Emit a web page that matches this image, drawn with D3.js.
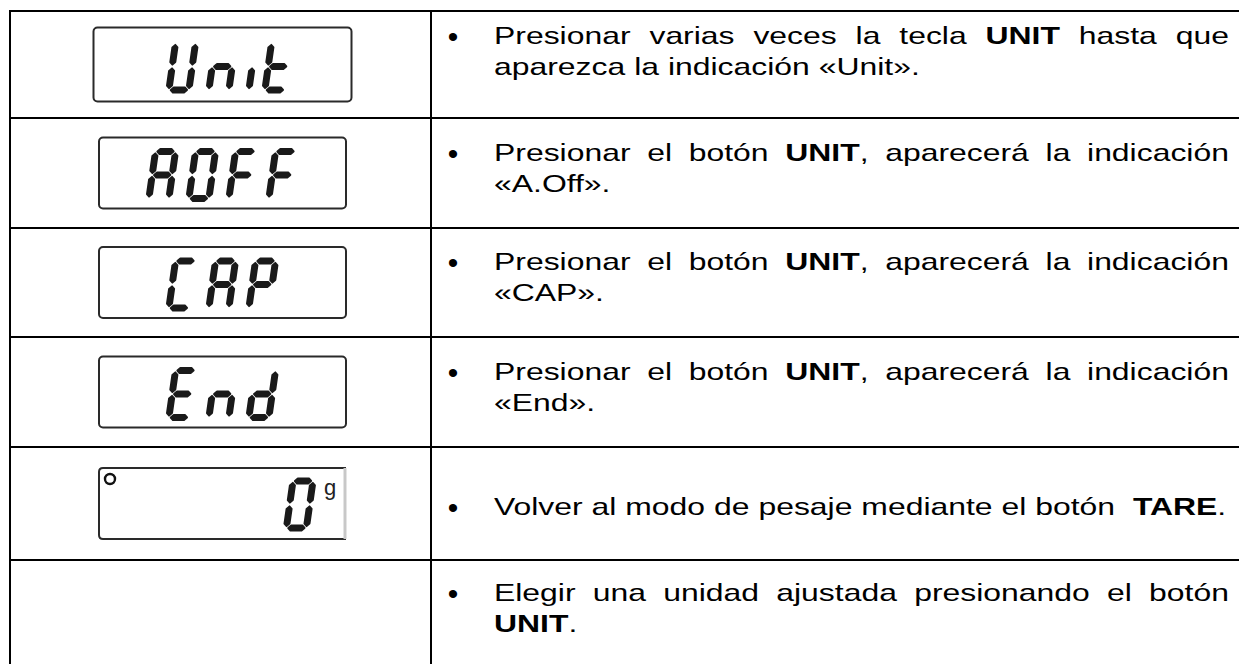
<!DOCTYPE html>
<html><head><meta charset="utf-8">
<script src="https://cdn.jsdelivr.net/npm/d3@7"></script>
<style>html,body{margin:0;padding:0;background:#fff;} svg{display:block}</style>
</head><body>
<svg id="c" width="1239" height="664"></svg>
<script>
// ---------- data ----------
const displays = ["Unit", "AOFF", "CAP", "End", "0", ""];
const instructions = [
  ["Presionar varias veces la tecla **UNIT** hasta que", "aparezca la indicación «Unit»."],
  ["Presionar el botón **UNIT**, aparecerá la indicación", "«A.Off»."],
  ["Presionar el botón **UNIT**, aparecerá la indicación", "«CAP»."],
  ["Presionar el botón **UNIT**, aparecerá la indicación", "«End»."],
  ["Volver al modo de pesaje mediante el botón  **TARE**."],
  ["Elegir una unidad ajustada presionando el botón", "**UNIT**."]
];
const weighUnit = "g";

// ---------- layout ----------
const svg = d3.select("#c");
const tableLeft = 10, colSplit = 431, tableRight = 1242;
const rowEdges = [11, 118, 228, 337, 447, 560, 667];
const rowTextShift = [-8, 0, 0, 0, 8, 0];
const FS = 24, SX = 1.33, LH = 31, VOFF = -6;
const bulletX = 453, textLeft = 494, textRight = 1229;
const INK = "#000";
const FONT = "Liberation Sans, Arial, sans-serif";

// 7-segment glyph table
const SEG = {U:"bcdef", n:"ceg", i:"e", t:"defg", A:"abcefg", O:"abcdef", "0":"abcdef",
             F:"aefg", C:"adef", P:"abefg", E:"adefg", d:"bcdeg"};
const GW = 20, GH = 47, GT = 2.6, GAP = 1.8, PITCH = 40, SKEW = -8;
const advance = ch => ch === "i" ? 16 : PITCH;

function segPoly(s){
  const t = GT, g = GAP, m = GH/2;
  const H = (x1,x2,y)=>[[x1,y],[x1+t,y-t],[x2-t,y-t],[x2,y],[x2-t,y+t],[x1+t,y+t]];
  const V = (x,y1,y2)=>[[x,y1],[x+t,y1+t],[x+t,y2-t],[x,y2],[x-t,y2-t],[x-t,y1+t]];
  switch(s){
    case "a": return H(g, GW-g, 0);
    case "g": return H(g, GW-g, m);
    case "d": return H(g, GW-g, GH);
    case "f": return V(0, g, m-g);
    case "e": return V(0, m+g, GH-g);
    case "b": return V(GW, g, m-g);
    case "c": return V(GW, m+g, GH-g);
  }
}
const line = d3.line().curve(d3.curveLinearClosed);

function drawGlyphs(g, str, x0, y0){
  let x = x0;
  [...str].forEach(ch=>{
    const gg = g.append("g").attr("transform", `translate(${x},${y0}) skewX(${SKEW})`);
    gg.selectAll("path").data([...(SEG[ch]||"")]).join("path")
      .attr("d", s=>line(segPoly(s)))
      .attr("fill", "#1a1a1a").attr("stroke", "#1a1a1a")
      .attr("stroke-width", 1.8).attr("stroke-linejoin", "round");
    x += advance(ch);
  });
}
function stringWidth(str){
  const cs=[...str]; let w=0;
  cs.forEach((c,i)=>{ w += i<cs.length-1 ? advance(c) : GW; });
  return w;
}

// ---------- table borders ----------
const grid = svg.append("g").attr("stroke", INK).attr("stroke-width", 2).attr("fill","none");
grid.selectAll("line.h").data(rowEdges).join("line").attr("class","h")
  .attr("x1", tableLeft-1).attr("x2", tableRight).attr("y1", d=>d).attr("y2", d=>d);
grid.selectAll("line.v").data([tableLeft, colSplit, tableRight-1]).join("line").attr("class","v")
  .attr("x1", d=>d).attr("x2", d=>d).attr("y1", rowEdges[0]-1).attr("y2", rowEdges[rowEdges.length-1]);

// ---------- displays ----------
const cellCx = (tableLeft + colSplit)/2 + 2;
displays.forEach((str, r)=>{
  if(!str) return;
  const top = rowEdges[r], bot = rowEdges[r+1], cy = (top+bot)/2;
  const big = r === 0;
  const bw = big ? 258 : 247, bh = big ? 74 : 71;
  const bx = cellCx - bw/2, by = cy - bh/2;
  const g = svg.append("g");
  if(str === "0"){
    const rr = 4;
    g.append("path")
      .attr("d", `M${bx+bw},${by} L${bx+rr},${by} Q${bx},${by} ${bx},${by+rr} L${bx},${by+bh-rr} Q${bx},${by+bh} ${bx+rr},${by+bh} L${bx+bw},${by+bh}`)
      .attr("fill","none").attr("stroke","#2a2a2a").attr("stroke-width",2);
    g.append("line").attr("x1",bx+bw-1).attr("x2",bx+bw-1).attr("y1",by).attr("y2",by+bh)
      .attr("stroke","#c8c8c8").attr("stroke-width",3);
    g.append("circle").attr("cx", bx+11).attr("cy", by+11).attr("r", 5)
      .attr("fill","none").attr("stroke","#111").attr("stroke-width",2.4);
    drawGlyphs(g, str, bx+194, by + (bh-GH)/2 + 1);
    g.append("text").attr("x", bx+225).attr("y", by+27)
      .attr("font-family", FONT).attr("font-size",22)
      .attr("fill","#222").text(weighUnit);
  } else {
    g.append("rect").attr("x",bx).attr("y",by).attr("width",bw).attr("height",bh)
      .attr("rx",4).attr("fill","none").attr("stroke","#2a2a2a").attr("stroke-width",2);
    const sw = stringWidth(str);
    drawGlyphs(g, str, bx + bw/2 - sw/2 + 3 + (big?8:0), by + (bh-GH)/2 + 2);
  }
});

// ---------- instruction text ----------
function parseLine(s){
  const parts = s.split("**");
  const words = [[]];
  parts.forEach((p,i)=>{
    const bold = i%2===1;
    p.split(" ").forEach((seg,j)=>{
      if(j>0) words.push([]);
      if(seg.length) words[words.length-1].push({t:seg, bold});
    });
  });
  return words;
}
const meas = svg.append("text").attr("font-family", FONT)
  .attr("font-size",FS).attr("x",-1000).attr("y",-1000);
function wordWidth(runs){
  if(!runs.length) return 0;
  meas.selectAll("tspan").remove();
  runs.forEach(r=>meas.append("tspan").attr("font-weight", r.bold?"bold":"normal").text(r.t));
  return meas.node().getComputedTextLength()*SX;
}
const spaceW = 0.2778*FS*SX;

const tg = svg.append("g").attr("fill", INK);
instructions.forEach((lines, r)=>{
  const top = rowEdges[r], bot = rowEdges[r+1];
  const cy = (top+bot)/2 + VOFF + rowTextShift[r];
  const n = lines.length;
  lines.forEach((ln, k)=>{
    const base = cy + (k-(n-1)/2)*LH + 9;
    if(k===0){
      tg.append("text").attr("x", bulletX).attr("y", base+3).attr("text-anchor","middle")
        .attr("font-family", FONT).attr("font-size",30).text("•");
    }
    const words = parseLine(ln);
    const widths = words.map(wordWidth);
    const last = k === n-1;
    let gap = spaceW;
    if(!last){
      const sum = d3.sum(widths);
      gap = (textRight - textLeft - sum)/(words.length-1);
    }
    let x = textLeft;
    words.forEach((w,i)=>{
      if(w.length){
        const t = tg.append("text").attr("transform",`translate(${x},${base}) scale(${SX},1)`)
          .attr("font-family", FONT).attr("font-size",FS);
        w.forEach(rn=>t.append("tspan").attr("font-weight", rn.bold?"bold":"normal").text(rn.t));
      }
      x += widths[i] + gap;
    });
  });
});
meas.remove();
</script>
</body></html>
